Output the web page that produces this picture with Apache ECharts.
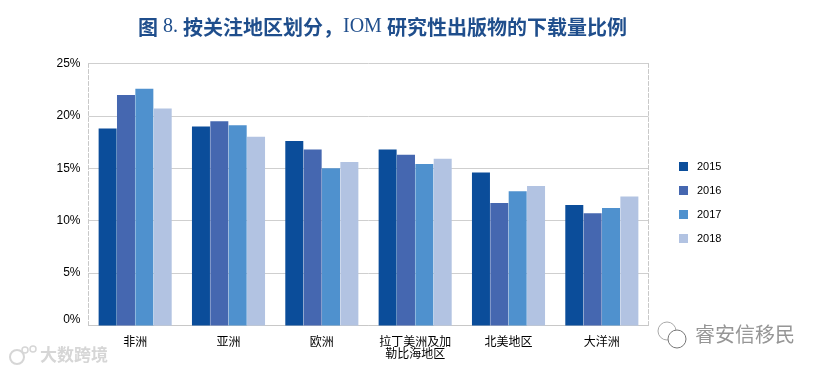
<!DOCTYPE html>
<html><head><meta charset="utf-8">
<style>html,body{margin:0;padding:0;background:#fff}#c{width:821px;height:372px}</style>
<script src="https://cdn.jsdelivr.net/npm/echarts@6/dist/echarts.min.js"></script>
</head><body><div id="c"></div>
<script>
const categories = ['非洲','亚洲','欧洲','拉丁美洲及加\n勒比海地区','北美地区','大洋洲'];
const years = ['2015','2016','2017','2018'];
const v2015 = [18.8,19.0,17.6,16.8,14.6,11.5];
const v2016 = [22.0,19.5,16.8,16.3,11.7,10.7];
const v2017 = [22.6,19.1,15.0,15.4,12.8,11.2];
const v2018 = [20.7,18.0,15.6,15.9,13.3,12.3];
const yTicks = [0,5,10,15,20,25];
const colors = ['#0b4d9a','#4567b0','#4f91ce','#b2c3e2'];
const values = [v2015,v2016,v2017,v2018];
const cjk = '"Noto Sans CJK SC"';
const chart = echarts.init(document.getElementById('c'),null,{renderer:'canvas'});
chart.setOption({
  animation:false,
  backgroundColor:'#fff',
  title:{
    left:133, top:12,
    text:'{c|图} {s|8.} {c|按关注地区划分，}{s|IOM} {c|研究性出版物的下载量比例}',
    textStyle:{fontWeight:'normal',rich:{
      c:{fontFamily:cjk,fontWeight:'bold',fontSize:20,color:'#1f4e8c'},
      s:{fontFamily:'"Liberation Serif"',fontWeight:'normal',fontSize:20,color:'#1f4e8c'}
    }}
  },
  legend:{
    orient:'vertical', left:674, top:156, itemWidth:9, itemHeight:9, itemGap:13,
    icon:'rect',
    textStyle:{fontFamily:'"Liberation Sans"',fontSize:11,color:'#000',padding:[0,0,0,4]},
    data:years
  },
  grid:{left:88.5,right:172.5,top:63.5,bottom:46.5,containLabel:false},
  xAxis:{
    type:'category',data:categories,
    axisTick:{show:false},
    axisLine:{lineStyle:{color:'#c8c8c8',width:1}},
    axisLabel:{fontFamily:cjk,fontSize:12,color:'#000',lineHeight:12,margin:10,interval:0}
  },
  yAxis:[{
    type:'value',min:yTicks[0],max:yTicks[yTicks.length-1],interval:5,
    axisLine:{show:true,lineStyle:{color:'#c8c8c8',type:'dashed',width:1}},
    axisTick:{show:false},
    splitLine:{lineStyle:{color:'#cfcfcf',width:1}},
    axisLabel:{formatter:'{value}%',fontFamily:'"Liberation Sans"',fontSize:12,color:'#000',margin:8,verticalAlignMinLabel:'bottom'}
  },{
    type:'value',position:'right',min:0,max:25,interval:5,
    axisLine:{show:true,lineStyle:{color:'#c8c8c8',type:'dashed',width:1}},
    axisTick:{show:false},splitLine:{show:false},axisLabel:{show:false}
  }],
  series:years.map((y,i)=>({
    name:y,type:'bar',data:values[i],
    barWidth:18,barGap:'2%',
    itemStyle:{color:colors[i]}
  })),
  graphic:[
    {type:'text',left:40,top:346,style:{text:'大数跨境',fontFamily:cjk,fontSize:17,fontWeight:'bold',fill:'#d6d6d6'}},
    {type:'circle',shape:{cx:17,cy:357,r:7},style:{fill:'none',stroke:'#d6d6d6',lineWidth:2}},
    {type:'circle',shape:{cx:25,cy:350,r:3},style:{fill:'none',stroke:'#d6d6d6',lineWidth:1.5}},
    {type:'circle',shape:{cx:33,cy:349,r:3},style:{fill:'none',stroke:'#d6d6d6',lineWidth:1.5}},
    {type:'text',left:695,top:324,style:{text:'睿安信移民',fontFamily:cjk,fontSize:20,fill:'#969696'}},
    {type:'circle',shape:{cx:667,cy:331,r:9},style:{fill:'#fff',stroke:'#aaaaaa',lineWidth:1}},
    {type:'circle',shape:{cx:677,cy:339,r:9},style:{fill:'#fff',stroke:'#777777',lineWidth:1}}
  ]
});
</script></body></html>
